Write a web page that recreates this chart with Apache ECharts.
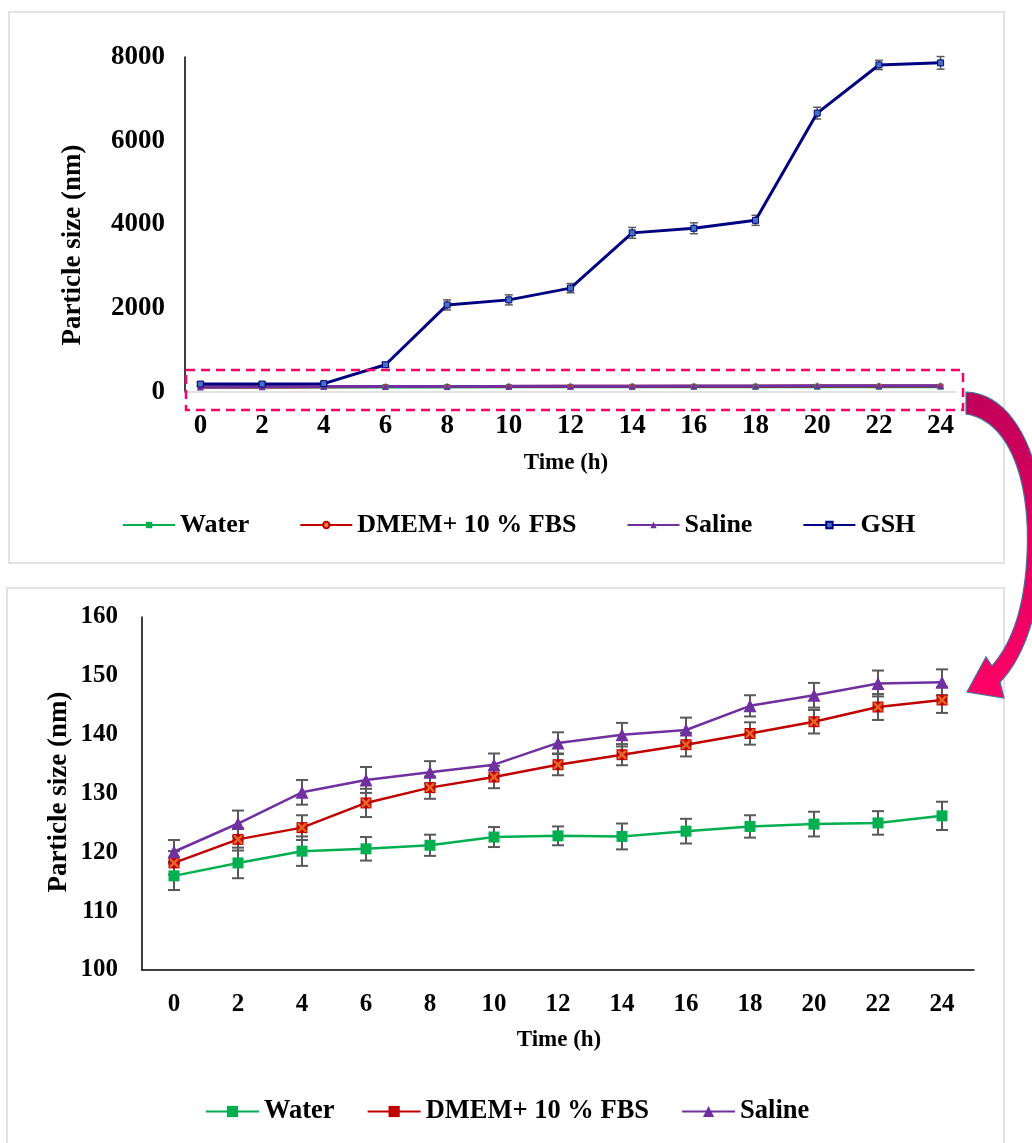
<!DOCTYPE html>
<html><head><meta charset="utf-8">
<script src="https://cdn.jsdelivr.net/npm/echarts@6/dist/echarts.min.js"></script>
<style>html,body{margin:0;padding:0;background:#fff}#c{width:1032px;height:1143px}</style>
</head><body><div id="c"></div><script>
// ---- data ----
const times = [0, 2, 4, 6, 8, 10, 12, 14, 16, 18, 20, 22, 24];
const timeLabels = ['0', '2', '4', '6', '8', '10', '12', '14', '16', '18', '20', '22', '24'];
const water = [116.0, 118.2, 120.2, 120.6, 121.2, 122.6, 122.8, 122.7, 123.6, 124.4, 124.8, 125.0, 126.2];
const waterErr = [2.4, 2.6, 2.5, 2.0, 1.8, 1.7, 1.6, 2.2, 2.1, 1.9, 2.1, 2.0, 2.4];
const dmem = [118.2, 122.2, 124.2, 128.4, 131.0, 132.8, 134.9, 136.6, 138.3, 140.2, 142.2, 144.7, 145.9];
const dmemErr = [2.0, 1.9, 2.1, 2.4, 1.9, 1.9, 1.8, 1.8, 2.0, 1.9, 2.0, 2.2, 2.2];
const saline = [120.1, 124.9, 130.2, 132.3, 133.6, 134.9, 138.6, 140.0, 140.8, 144.9, 146.7, 148.7, 148.9];
const salineErr = [2.0, 2.2, 2.1, 2.2, 1.9, 1.9, 1.8, 2.0, 2.1, 1.8, 2.1, 2.2, 2.2];
const gsh = [190, 190, 200, 650, 2080, 2200, 2480, 3800, 3910, 4100, 6660, 7810, 7860];
const gshErr = [40, 40, 40, 60, 120, 120, 110, 130, 130, 120, 140, 110, 150];
const topTicks = [0, 2000, 4000, 6000, 8000];
const bottomTicks = [100, 110, 120, 130, 140, 150, 160];

const FONT = 'Liberation Serif';
const C_WATER = '#00B050', C_DMEM = '#C00000', C_SAL = '#7030A0', C_GSH = '#000080';
const ZW = '\u200b';

function errSeries(xi, yi, xs, vals, errs, cap, width) {
  return {
    type: 'custom', xAxisIndex: xi, yAxisIndex: yi, z: 1, silent: true,
    encode: { x: 0, y: [1, 2] },
    data: vals.map((v, i) => [xs[i], v - errs[i], v + errs[i]]),
    renderItem: (params, api) => {
      const x = api.value(0);
      const lo = api.coord([x, api.value(1)]);
      const hi = api.coord([x, api.value(2)]);
      const st = { stroke: '#595959', lineWidth: width };
      return { type: 'group', children: [
        { type: 'line', shape: { x1: hi[0], y1: hi[1], x2: lo[0], y2: lo[1] }, style: st },
        { type: 'line', shape: { x1: hi[0] - cap, y1: hi[1], x2: hi[0] + cap, y2: hi[1] }, style: st },
        { type: 'line', shape: { x1: lo[0] - cap, y1: lo[1], x2: lo[0] + cap, y2: lo[1] }, style: st }
      ]};
    }
  };
}

// decorative arrow outline (sampled cubic curves)
function cubic(p0, p1, p2, p3, n) {
  const pts = [];
  for (let k = 1; k <= n; k++) {
    const t = k / n, u = 1 - t;
    pts.push([
      u*u*u*p0[0] + 3*u*u*t*p1[0] + 3*u*t*t*p2[0] + t*t*t*p3[0],
      u*u*u*p0[1] + 3*u*u*t*p1[1] + 3*u*t*t*p2[1] + t*t*t*p3[1]
    ]);
  }
  return pts;
}
const arrowPts = [[966, 392]]
  .concat(cubic([966, 392], [1022, 394], [1052, 480], [1042, 570], 24))
  .concat(cubic([1042, 570], [1036, 620], [1022, 660], [1000, 682], 16))
  .concat([[1004, 698], [967, 692], [986, 657], [992, 666]])
  .concat(cubic([992, 666], [1010, 645], [1022, 615], [1026, 570], 16))
  .concat(cubic([1026, 570], [1034, 480], [1008, 420], [966, 414], 24));

const topLabel = { fontFamily: FONT, fontWeight: 'bold', fontSize: 27, color: '#000' };
const botLabel = { fontFamily: FONT, fontWeight: 'bold', fontSize: 25, color: '#000' };
const XPATH = 'path://M0,0 L2,0 L5,3 L8,0 L10,0 L10,2 L7,5 L10,8 L10,10 L8,10 L5,7 L2,10 L0,10 L0,8 L3,5 L0,2 Z';

const chart = echarts.init(document.getElementById('c'), null, { renderer: 'canvas' });
const option = {
  animation: false,
  backgroundColor: '#fff',
  grid: [
    { left: 185, top: 57, width: 771, height: 335 },
    { left: 142, top: 617, width: 832, height: 353 }
  ],
  xAxis: [
    { gridIndex: 0, type: 'value', min: -0.5, max: 24.5, interval: 0.5,
      axisLine: { show: true, onZero: false, lineStyle: { color: '#D9D9D9', width: 1.5 } },
      axisTick: { show: false }, splitLine: { show: false },
      axisLabel: Object.assign({ margin: 21, showMinLabel: false, showMaxLabel: false,
        formatter: v => (times.indexOf(v) >= 0 ? String(v) : '') }, topLabel) },
    { gridIndex: 1, type: 'category', data: timeLabels, boundaryGap: true,
      axisLine: { show: true, lineStyle: { color: '#000', width: 1.5 } },
      axisTick: { show: false }, splitLine: { show: false },
      axisLabel: Object.assign({ margin: 22, interval: 0 }, botLabel) }
  ],
  yAxis: [
    { gridIndex: 0, type: 'value', min: topTicks[0], max: topTicks[topTicks.length - 1], interval: 2000,
      axisLine: { show: true, onZero: false, lineStyle: { color: '#000', width: 1.5 } },
      axisTick: { show: false }, splitLine: { show: false },
      axisLabel: Object.assign({ margin: 20, formatter: v => String(v) }, topLabel) },
    { gridIndex: 1, type: 'value', min: bottomTicks[0], max: bottomTicks[bottomTicks.length - 1], interval: 10,
      axisLine: { show: true, onZero: false, lineStyle: { color: '#000', width: 1.5 } },
      axisTick: { show: false }, splitLine: { show: false },
      axisLabel: Object.assign({ margin: 24, formatter: v => String(v) }, botLabel) }
  ],
  legend: [
    { left: 122, top: 512, padding: 0, itemWidth: 52, itemHeight: 8, itemGap: 50,
      textStyle: { fontFamily: FONT, fontWeight: 'bold', fontSize: 26, color: '#000' },
      formatter: n => n.replace(/\u200b/g, ''),
      data: ['Water' + ZW, 'DMEM+ 10 % FBS' + ZW, 'Saline' + ZW, 'GSH'] },
    { left: 205, top: 1098, padding: 0, itemWidth: 53, itemHeight: 14, itemGap: 32,
      textStyle: { fontFamily: FONT, fontWeight: 'bold', fontSize: 26.5, color: '#000' },
      data: ['Water', 'DMEM+ 10 % FBS', 'Saline'] }
  ],
  series: [
    // top panel
    errSeries(0, 0, times, gsh, gshErr, 4, 1.5),
    { name: 'Water' + ZW, type: 'line', xAxisIndex: 0, yAxisIndex: 0, z: 3,
      data: times.map((t, i) => [t, water[i]]), symbol: 'rect', symbolSize: 6,
      lineStyle: { color: C_WATER, width: 3 }, itemStyle: { color: C_WATER } },
    { name: 'DMEM+ 10 % FBS' + ZW, type: 'line', xAxisIndex: 0, yAxisIndex: 0, z: 3,
      data: times.map((t, i) => [t, dmem[i]]), symbol: 'circle', symbolSize: 5,
      lineStyle: { color: C_DMEM, width: 3 }, itemStyle: { color: '#ED7D31', borderColor: C_DMEM, borderWidth: 0.5 } },
    { name: 'Saline' + ZW, type: 'line', xAxisIndex: 0, yAxisIndex: 0, z: 3,
      data: times.map((t, i) => [t, saline[i]]), symbol: 'triangle', symbolSize: 7,
      lineStyle: { color: C_SAL, width: 3 }, itemStyle: { color: C_SAL } },
    { name: 'GSH', type: 'line', xAxisIndex: 0, yAxisIndex: 0, z: 4,
      data: times.map((t, i) => [t, gsh[i]]), symbol: 'rect', symbolSize: 6,
      lineStyle: { color: C_GSH, width: 3 }, itemStyle: { color: '#4472C4', borderColor: C_GSH, borderWidth: 1 } },
    // bottom panel
    errSeries(1, 1, times.map((t, i) => i), water, waterErr, 6, 2),
    errSeries(1, 1, times.map((t, i) => i), dmem, dmemErr, 6, 2),
    errSeries(1, 1, times.map((t, i) => i), saline, salineErr, 6, 2),
    { name: 'Water', type: 'line', xAxisIndex: 1, yAxisIndex: 1, z: 3,
      data: water, symbol: 'rect', symbolSize: 11,
      lineStyle: { color: C_WATER, width: 2.5 }, itemStyle: { color: C_WATER } },
    { name: 'DMEM+ 10 % FBS', type: 'line', xAxisIndex: 1, yAxisIndex: 1, z: 3,
      data: dmem, symbol: 'rect', symbolSize: 11,
      lineStyle: { color: C_DMEM, width: 2.5 }, itemStyle: { color: C_DMEM } },
    { name: 'dmemX', type: 'scatter', xAxisIndex: 1, yAxisIndex: 1, z: 4, silent: true,
      data: dmem, symbol: XPATH, symbolSize: 9, itemStyle: { color: '#ED7D31' } },
    { name: 'Saline', type: 'line', xAxisIndex: 1, yAxisIndex: 1, z: 3,
      data: saline, symbol: 'triangle', symbolSize: 13,
      lineStyle: { color: C_SAL, width: 2.5 }, itemStyle: { color: C_SAL } }
  ],
  graphic: [
    { type: 'rect', z: -1, shape: { x: 9, y: 12, width: 995, height: 551 },
      style: { fill: 'rgba(0,0,0,0)', stroke: '#D9D9D9', lineWidth: 1.5 } },
    { type: 'rect', z: -1, shape: { x: 7, y: 588, width: 997, height: 570 },
      style: { fill: 'rgba(0,0,0,0)', stroke: '#D9D9D9', lineWidth: 1.5 } },
    { type: 'rect', z: 100, shape: { x: 186, y: 370, width: 777, height: 40 },
      style: { fill: 'rgba(0,0,0,0)', stroke: '#FF0066', lineWidth: 2.5, lineDash: [9, 6] } },
    { type: 'polygon', z: 100, shape: { points: arrowPts },
      style: { fill: new echarts.graphic.LinearGradient(0, 0, 0, 1, [{ offset: 0, color: '#C0005A' }, { offset: 1, color: '#FF0066' }]),
               stroke: '#41719C', lineWidth: 1.2 } },
    { type: 'text', z: 100, x: 566, y: 463, style: { text: 'Time (h)', font: 'bold 23px ' + FONT, fill: '#000', textAlign: 'center', textVerticalAlign: 'middle' } },
    { type: 'text', z: 100, x: 559, y: 1040, style: { text: 'Time (h)', font: 'bold 23px ' + FONT, fill: '#000', textAlign: 'center', textVerticalAlign: 'middle' } },
    { type: 'text', z: 100, x: 73, y: 245, rotation: Math.PI / 2, style: { text: 'Particle size (nm)', font: 'bold 27px ' + FONT, fill: '#000', textAlign: 'center', textVerticalAlign: 'middle' } },
    { type: 'text', z: 100, x: 59, y: 792, rotation: Math.PI / 2, style: { text: 'Particle size (nm)', font: 'bold 27px ' + FONT, fill: '#000', textAlign: 'center', textVerticalAlign: 'middle' } }
  ]
};
chart.setOption(option);
</script></body></html>
